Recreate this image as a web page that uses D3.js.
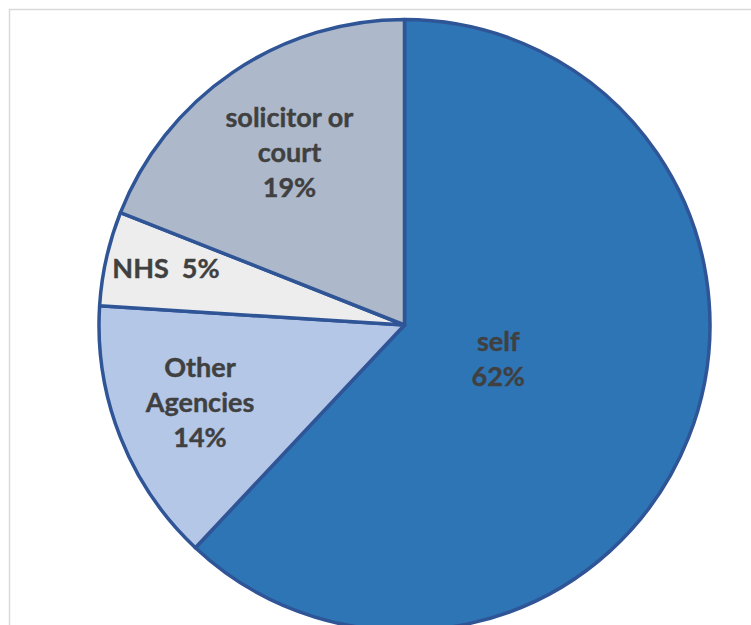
<!DOCTYPE html>
<html>
<head>
<meta charset="utf-8">
<script src="https://cdn.jsdelivr.net/npm/d3@7"></script>
<style>
  html, body { margin: 0; padding: 0; background: #fff; overflow: hidden; }
  svg { display: block; }
</style>
</head>
<body>
<script>
// Referral sources
const categories = ["self", "Other Agencies", "NHS", "solicitor or court"];
const shares = [62, 14, 5, 19];
const labelLines = [["self", "62%"], ["Other", "Agencies", "14%"], ["NHS  5%"], ["solicitor or", "court", "19%"]];
const sliceColors = ["#2E75B6", "#B4C7E7", "#EDEDED", "#ADB9CA"];

const W = 751, H = 625;
const cx = 404.5, cy = 325, R = 305.5;
// where each label sits, as a fraction of the radius
const labelRadiusFrac = [0.33, 0.72, 0.80, 0.67];

const svg = d3.select("body").append("svg").attr("width", W).attr("height", H);

// chart area frame
svg.append("rect")
  .attr("x", 9.5).attr("y", 9.5)
  .attr("width", W + 20).attr("height", H + 20)
  .attr("fill", "none").attr("stroke", "#D9D9D9").attr("stroke-width", 1.5);

const data = categories.map((c, i) => ({ name: c, value: shares[i], i }));
const pie = d3.pie().value(d => d.value).sort(null);
const arcs = pie(data);
const arc = d3.arc().innerRadius(0).outerRadius(R);

const g = svg.append("g").attr("transform", `translate(${cx},${cy})`);

g.selectAll("path.slice")
  .data(arcs)
  .join("path")
  .attr("class", "slice")
  .attr("d", arc)
  .attr("fill", d => sliceColors[d.data.i])
  .attr("stroke", "#2F5597")
  .attr("stroke-width", 3.5)
  .attr("stroke-linejoin", "round");

const lineH = 35;
g.selectAll("text.lbl")
  .data(arcs)
  .join("text")
  .attr("class", "lbl")
  .attr("font-family", "Lato, 'Open Sans', sans-serif")
  .attr("font-weight", "bold")
  .attr("font-size", 27)
  .attr("fill", "#404040")
  .attr("stroke", "#404040")
  .attr("stroke-width", 0.4)
  .attr("text-anchor", "middle")
  .each(function (d) {
    const r = R * labelRadiusFrac[d.data.i];
    const pos = d3.arc().innerRadius(r).outerRadius(r).centroid(d);
    const lines = labelLines[d.data.i];
    const t = d3.select(this);
    const y0 = pos[1] - (lines.length - 1) * lineH / 2 + 6;
    lines.forEach((ln, k) => {
      t.append("tspan")
        .attr("x", pos[0])
        .attr("y", y0 + k * lineH)
        .attr("xml:space", "preserve")
        .text(ln);
    });
  });
</script>
</body>
</html>
